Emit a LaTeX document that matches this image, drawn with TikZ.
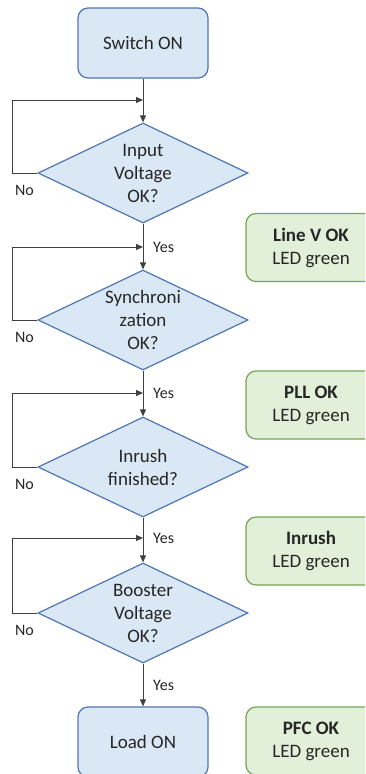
\documentclass[tikz,border=0pt]{standalone}
\usepackage{fontspec}
\setmainfont{Carlito}
\usetikzlibrary{positioning,calc,shapes.geometric,arrows.meta}

\definecolor{boxblue}{HTML}{DAE8F5}
\definecolor{edgeblue}{HTML}{4F76B0}
\definecolor{boxgreen}{HTML}{E2F0D9}
\definecolor{edgegreen}{HTML}{76A656}
\definecolor{linegray}{HTML}{404040}
\definecolor{txt}{HTML}{262626}

\begin{document}
\begin{tikzpicture}[
    x=1pt, y=1pt,
    terminal/.style={rectangle, rounded corners=10pt, draw=edgeblue, fill=boxblue, line width=1.2pt, minimum width=130pt, minimum height=70pt, font=\fontsize{19}{23}\selectfont, text=txt},
    decision/.style={diamond, draw=edgeblue, fill=boxblue, line width=1.2pt, minimum width=210pt, minimum height=100pt, inner sep=-6pt, shape aspect=2.1, align=center, font=\fontsize{19}{23}\selectfont, text=txt},
    status/.style={rectangle, rounded corners=10pt, draw=edgegreen, fill=boxgreen, line width=1.2pt, minimum width=130pt, minimum height=68pt, align=center, font=\fontsize{19}{23}\selectfont, text=txt},
    flow/.style={draw=linegray, line width=0.9pt, -{Triangle[length=7pt,width=6pt]}},
    lbl/.style={inner sep=0pt, font=\fontsize{16}{19}\selectfont, text=txt}
]

% Page frame (boxes on the right and bottom are cut by it)
\useasboundingbox (0,0) rectangle (365,-774);
\clip (0,0) rectangle (365,-774);

% Main flow
\node[terminal] (start) at (143,-43) {Switch ON};
\node[decision] (d1) at (143,-173) {Input\\Voltage\\OK?};
\node[decision] (d2) at (143,-320) {Synchroni\\zation\\OK?};
\node[decision] (d3) at (143,-467) {Inrush\\finished?};
\node[decision] (d4) at (143,-613) {Booster\\Voltage\\OK?};
\node[terminal] (stop) at (143,-742) {Load ON};

% LED status boxes
\node[status] (s1) at (311,-247.5) {\textbf{Line V OK}\\LED green};
\node[status] (s2) at (311,-405) {\textbf{PLL OK}\\LED green};
\node[status] (s3) at (311,-551) {\textbf{Inrush}\\LED green};
\node[status] (s4) at (311,-741) {\textbf{PFC OK}\\LED green};

% Junctions on the main line
\coordinate (j1) at (143,-100);
\coordinate (j2) at (143,-247);
\coordinate (j3) at (143,-393);
\coordinate (j4) at (143,-538);
\coordinate (j5) at (143,-685);

% Downward arrows
\draw[flow] (start) -- (d1);
\draw[flow] (d1) -- (d2);
\draw[flow] (d2) -- (d3);
\draw[flow] (d3) -- (d4);
\draw[flow] (d4) -- (stop);

% Retry loops
\draw[flow] (d1.west) -- ++(-25,0) |- (j1);
\draw[flow] (d2.west) -- ++(-25,0) |- (j2);
\draw[flow] (d3.west) -- ++(-25,0) |- (j3);
\draw[flow] (d4.west) -- ++(-25,0) |- (j4);

% Yes / No labels
\node[lbl, right=10pt of j2] (y1) {Yes};
\node[lbl, right=10pt of j3] (y2) {Yes};
\node[lbl, right=10pt of j4] (y3) {Yes};
\node[lbl, right=10pt of j5] (y4) {Yes};
\node[lbl] (n1) at ($(d1.west)+(-13,-17)$) {No};
\node[lbl] (n2) at ($(d2.west)+(-13,-17)$) {No};
\node[lbl] (n3) at ($(d3.west)+(-13,-17)$) {No};
\node[lbl] (n4) at ($(d4.west)+(-13,-17)$) {No};

\end{tikzpicture}
\end{document}
